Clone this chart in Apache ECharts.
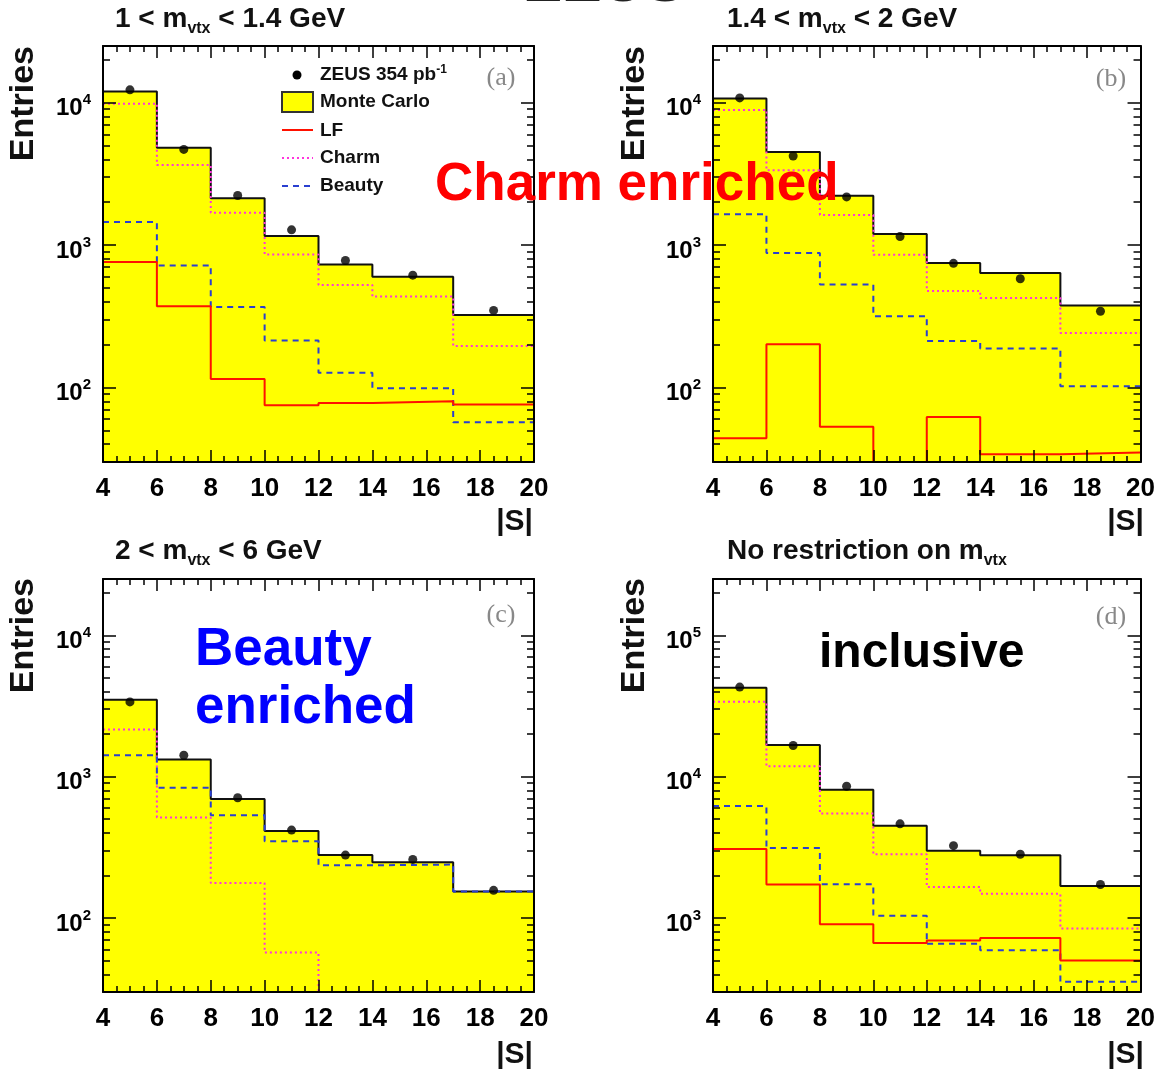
<!DOCTYPE html>
<html>
<head>
<meta charset="utf-8">
<script src="https://cdn.jsdelivr.net/npm/echarts@6/dist/echarts.min.js"></script>
<style>
html,body{margin:0;padding:0;background:#fff;}
#chart{width:1158px;height:1076px;}
</style>
</head>
<body>
<div id="chart"></div>
<script>
// ---- data ----
const binEdges = [4, 6, 8, 10, 12, 14, 17, 20];
const pointX = [5, 7, 9, 11, 13, 15.5, 18.5];

// (a) 1 < m_vtx < 1.4 GeV
const mcA = [11960, 4830, 2130, 1160, 730, 600, 323];
const dataA = [12300, 4700, 2230, 1280, 780, 615, 348];
const charmA = [9840, 3650, 1690, 860, 525, 435, 196];
const beautyA = [1450, 720, 368, 214, 127, 99, 57];
const lfA = [760, 372, 115, 75, 78, 80, 76];

// (b) 1.4 < m_vtx < 2 GeV
const mcB = [10700, 4510, 2220, 1195, 748, 637, 377];
const dataB = [10800, 4220, 2180, 1150, 745, 580, 343];
const charmB = [8890, 3350, 1630, 855, 477, 426, 241];
const beautyB = [1650, 880, 528, 317, 212, 188, 102];
const lfB = [44, 201, 53, 30, 62, 34, 35];

// (c) 2 < m_vtx < 6 GeV
const mcC = [3500, 1324, 694, 412, 279, 248, 154];
const dataC = [3380, 1416, 709, 419, 279, 260, 157];
const charmC = [2157, 515, 177, 57, 20, 15, 10];
const beautyC = [1416, 836, 533, 350, 236, 239, 154];

// (d) no restriction on m_vtx
const mcD = [42560, 16760, 8075, 4505, 2992, 2782, 1687];
const dataD = [43000, 16600, 8560, 4640, 3250, 2825, 1726];
const charmD = [33830, 11830, 5486, 2825, 1660, 1483, 845];
const beautyD = [6208, 3126, 1735, 1040, 657, 593, 354];
const lfD = [3076, 1726, 903, 667, 693, 722, 501];

const xMin = 4, xMax = 20, xStep = 2;
const yRanges = [[30, 25000], [30, 25000], [30, 25000], [300, 250000]];
const panelTitles = [
  ['1 < m', 'vtx', ' < 1.4 GeV'],
  ['1.4 < m', 'vtx', ' < 2 GeV'],
  ['2 < m', 'vtx', ' < 6 GeV'],
  ['No restriction on m', 'vtx', '']
];
const panelTags = ['(a)', '(b)', '(c)', '(d)'];
const legendLabels = ['ZEUS 354 pb', 'Monte Carlo', 'LF', 'Charm', 'Beauty'];

// ---- styling ----
const FONT = 'Liberation Sans, Arial, Helvetica, sans-serif';
const C_MC = '#ffff00', C_LF = '#ff1100', C_CHARM = '#ff33dd', C_BEAUTY = '#2a3fd0';
const grids = [
  {left: 103, top: 46, width: 431, height: 416},
  {left: 713, top: 46, width: 431, height: 416},
  {left: 103, top: 579, width: 431, height: 413},
  {left: 713, top: 579, width: 431, height: 413}
];

function stepData(vals) {
  return binEdges.map((e, i) => [e, vals[Math.min(i, vals.length - 1)]]);
}
function pointData(vals) {
  return pointX.map((x, i) => [x, vals[i]]);
}

const panels = [
  {mc: mcA, data: dataA, charm: charmA, beauty: beautyA, lf: lfA},
  {mc: mcB, data: dataB, charm: charmB, beauty: beautyB, lf: lfB},
  {mc: mcC, data: dataC, charm: charmC, beauty: beautyC, lf: null},
  {mc: mcD, data: dataD, charm: charmD, beauty: beautyD, lf: lfD}
];

const xAxes = [], yAxes = [], series = [];
const axisLineStyle = {show: true, lineStyle: {color: '#000', width: 2}};

panels.forEach((p, g) => {
  const [ymin, ymax] = yRanges[g];
  xAxes.push({
    type: 'value', gridIndex: g, min: xMin, max: xMax, interval: xStep, position: 'bottom', z: 10,
    axisLine: axisLineStyle,
    axisTick: {show: true, inside: true, length: 12, lineStyle: {color: '#000', width: 1.5}},
    minorTick: {show: true, splitNumber: 4, length: 6, lineStyle: {color: '#000', width: 1.5}},
    splitLine: {show: false},
    axisLabel: {show: true, margin: 14, color: '#000', fontFamily: FONT, fontWeight: 'bold', fontSize: 26}
  });
  xAxes.push({
    type: 'value', gridIndex: g, min: xMin, max: xMax, interval: xStep, position: 'top', z: 10,
    axisLine: axisLineStyle,
    axisTick: {show: true, inside: true, length: 12, lineStyle: {color: '#000', width: 1.5}},
    minorTick: {show: true, splitNumber: 4, length: 6, lineStyle: {color: '#000', width: 1.5}},
    splitLine: {show: false}, axisLabel: {show: false}
  });
  yAxes.push({
    type: 'log', logBase: 10, gridIndex: g, min: ymin, max: ymax, position: 'left', z: 10,
    axisLine: axisLineStyle,
    axisTick: {show: true, inside: true, length: 13, lineStyle: {color: '#000', width: 1.5}},
    minorTick: {show: true, splitNumber: 9, length: 7, lineStyle: {color: '#000', width: 1.5}},
    splitLine: {show: false},
    axisLabel: {
      show: true, margin: 12, showMinLabel: false, showMaxLabel: false,
      padding: [12, 0, 0, 0],
      formatter: function (v) {
        const e = Math.log10(v), r = Math.round(e);
        if (Math.abs(e - r) > 1e-6) return '';
        return '{b|10}{s|' + r + '}';
      },
      rich: {
        b: {fontFamily: FONT, fontWeight: 'bold', fontSize: 24, lineHeight: 32, color: '#000'},
        s: {fontFamily: FONT, fontWeight: 'bold', fontSize: 15, lineHeight: 15, verticalAlign: 'top', color: '#000'}
      }
    }
  });
  yAxes.push({
    type: 'log', logBase: 10, gridIndex: g, min: ymin, max: ymax, position: 'right', z: 10,
    axisLine: axisLineStyle,
    axisTick: {show: true, inside: true, length: 13, lineStyle: {color: '#000', width: 1.5}},
    minorTick: {show: true, splitNumber: 9, length: 7, lineStyle: {color: '#000', width: 1.5}},
    splitLine: {show: false}, axisLabel: {show: false}
  });

  const xi = g * 2, yi = g * 2;
  series.push({
    type: 'line', name: 'Monte Carlo', xAxisIndex: xi, yAxisIndex: yi, step: 'end', symbol: 'none',
    data: stepData(p.mc), clip: true,
    lineStyle: {color: '#111', width: 2},
    areaStyle: {color: C_MC, opacity: 1, origin: 'start'}, z: 2
  });
  series.push({
    type: 'line', name: 'Charm', xAxisIndex: xi, yAxisIndex: yi, step: 'end', symbol: 'none',
    data: stepData(p.charm), clip: true,
    lineStyle: {color: C_CHARM, width: 2, type: [2, 3]}, z: 3
  });
  series.push({
    type: 'line', name: 'Beauty', xAxisIndex: xi, yAxisIndex: yi, step: 'end', symbol: 'none',
    data: stepData(p.beauty), clip: true,
    lineStyle: {color: C_BEAUTY, width: 2, type: [6, 5]}, z: 3
  });
  if (p.lf) {
    series.push({
      type: 'line', name: 'LF', xAxisIndex: xi, yAxisIndex: yi, step: 'end', symbol: 'none',
      data: stepData(p.lf), clip: true,
      lineStyle: {color: C_LF, width: 2}, z: 4
    });
  }
  series.push({
    type: 'scatter', name: 'ZEUS', xAxisIndex: xi, yAxisIndex: yi,
    data: pointData(p.data), symbol: 'circle', symbolSize: 9,
    itemStyle: {color: '#000'}, z: 5
  });
});

// ---- text / annotations ----
const graphic = [];
const titleRich = {
  a: {fontFamily: FONT, fontWeight: 'bold', fontSize: 28, lineHeight: 29, verticalAlign: 'top', fill: '#111'},
  s: {fontFamily: FONT, fontWeight: 'bold', fontSize: 16, lineHeight: 16, padding: [19, 0, 0, 0], fill: '#111'}
};
const titlePos = [[115, 5], [727, 5], [115, 537], [727, 537]];
panelTitles.forEach((t, i) => {
  let txt = '{a|' + t[0] + '}{s|' + t[1] + '}';
  if (t[2]) txt += '{a|' + t[2] + '}';
  graphic.push({type: 'text', x: titlePos[i][0], y: titlePos[i][1], z: 50,
    style: {text: txt, rich: titleRich, align: 'left', verticalAlign: 'top'}});
});
const entriesPos = [[24, 46], [635, 46], [24, 578], [635, 578]];
entriesPos.forEach(pp => {
  graphic.push({type: 'text', x: pp[0], y: pp[1], rotation: Math.PI / 2, z: 50,
    style: {text: 'Entries', fontFamily: FONT, fontWeight: 'bold', fontSize: 34, fill: '#111', align: 'right', verticalAlign: 'middle'}});
});
const sPos = [[533, 522], [1144, 522], [533, 1055], [1144, 1055]];
sPos.forEach(pp => {
  graphic.push({type: 'text', x: pp[0], y: pp[1], z: 50,
    style: {text: '|S|', fontFamily: FONT, fontWeight: 'bold', fontSize: 30, fill: '#111', align: 'right', verticalAlign: 'middle'}});
});
const tagPos = [[501, 78], [1111, 79], [501, 615], [1111, 617]];
panelTags.forEach((t, i) => {
  graphic.push({type: 'text', x: tagPos[i][0], y: tagPos[i][1], z: 50,
    style: {text: t, fontFamily: 'Liberation Serif, DejaVu Serif, serif', fontSize: 26, fill: '#888', align: 'center', verticalAlign: 'middle'}});
});
// legend (panel a)
const legFont = {fontFamily: FONT, fontWeight: 'bold', fontSize: 19, fill: '#111'};
graphic.push({type: 'circle', shape: {cx: 297, cy: 75, r: 4.5}, style: {fill: '#000'}, z: 50});
graphic.push({type: 'text', x: 320, y: 75, z: 50, style: {
  text: '{t|' + legendLabels[0] + '}{u|-1}', verticalAlign: 'middle', align: 'left',
  rich: {t: Object.assign({lineHeight: 22}, legFont), u: Object.assign({}, legFont, {fontSize: 12, lineHeight: 12, verticalAlign: 'top'})}}});
graphic.push({type: 'rect', shape: {x: 282, y: 92, width: 31, height: 20}, style: {fill: C_MC, stroke: '#333', lineWidth: 2}, z: 50});
graphic.push({type: 'text', x: 320, y: 102, z: 50, style: Object.assign({text: legendLabels[1], verticalAlign: 'middle', align: 'left'}, legFont)});
graphic.push({type: 'line', shape: {x1: 282, y1: 130, x2: 313, y2: 130}, style: {stroke: C_LF, lineWidth: 2}, z: 50});
graphic.push({type: 'text', x: 320, y: 131, z: 50, style: Object.assign({text: legendLabels[2], verticalAlign: 'middle', align: 'left'}, legFont)});
graphic.push({type: 'line', shape: {x1: 282, y1: 158, x2: 313, y2: 158}, style: {stroke: C_CHARM, lineWidth: 2, lineDash: [2, 3]}, z: 50});
graphic.push({type: 'text', x: 320, y: 158, z: 50, style: Object.assign({text: legendLabels[3], verticalAlign: 'middle', align: 'left'}, legFont)});
graphic.push({type: 'line', shape: {x1: 282, y1: 186, x2: 313, y2: 186}, style: {stroke: C_BEAUTY, lineWidth: 2, lineDash: [6, 5]}, z: 50});
graphic.push({type: 'text', x: 320, y: 186, z: 50, style: Object.assign({text: legendLabels[4], verticalAlign: 'middle', align: 'left'}, legFont)});

// big annotations
const bigFont = {fontFamily: FONT, fontWeight: 'bold', fontSize: 53};
graphic.push({type: 'text', x: 435, y: 185, z: 60, style: Object.assign({text: 'Charm enriched', fill: '#ff0000', align: 'left', verticalAlign: 'middle'}, bigFont)});
graphic.push({type: 'text', x: 195, y: 650, z: 60, style: Object.assign({text: 'Beauty', fill: '#0000ff', align: 'left', verticalAlign: 'middle'}, bigFont)});
graphic.push({type: 'text', x: 195, y: 708, z: 60, style: Object.assign({text: 'enriched', fill: '#0000ff', align: 'left', verticalAlign: 'middle'}, bigFont)});
graphic.push({type: 'text', x: 819, y: 654, z: 60, style: Object.assign({text: 'inclusive', fill: '#000', align: 'left', verticalAlign: 'middle'}, bigFont, {fontSize: 48})});
// cut-off header at the very top
graphic.push({type: 'text', x: 605, y: -16, z: 60, style: {text: 'ZEUS', fontFamily: FONT, fontWeight: 'bold', fontSize: 60, fill: '#222', align: 'center', verticalAlign: 'middle'}});

const chart = echarts.init(document.getElementById('chart'), null, {renderer: 'canvas'});
chart.setOption({
  animation: false,
  backgroundColor: '#fff',
  grid: grids.map(gr => Object.assign({containLabel: false}, gr)),
  xAxis: xAxes,
  yAxis: yAxes,
  series: series,
  graphic: graphic
});
</script>
</body>
</html>
